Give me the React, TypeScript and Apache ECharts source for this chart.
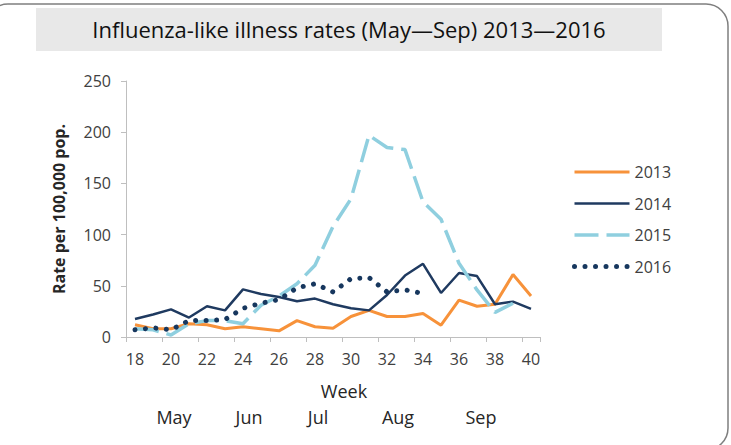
import React, { useEffect, useRef } from "react";
import * as echarts from "echarts";

const weeks = ["18","19","20","21","22","23","24","25","26","27","28","29","30","31","32","33","34","35","36","37","38","39","40"];
const s2013 = [12, 8, 8, 13, 12, 8, 10, 8, 6, 16, 10, 8.5, 20, 26, 20, 20, 23, 11.5, 36, 30, 32, 61, 40];
const s2014 = [17.5, 22, 27, 19, 30, 26, 46.5, 42, 39, 35, 37.5, 32, 28, 26, 41, 60, 71.5, 43, 62.5, 59.5, 32, 34.5, 27.5];
const s2015 = [8, 7, 2, 13, 16, 16, 13, 31, 40, 52, 70, 108, 135, 197, 185, 183, 132, 115, 72, 46, 24, 33, null];
const s2016 = [7, 9, 7, 16, 16, 17, 28, 33, 36.5, 48, 52, 44, 57, 58, 44, 46, 42.5, null, null, null, null, null, null];
const seriesNames = ["2013", "2014", "2015", "2016"];
const yTicks = { min: 0, max: 250, interval: 50 };
const titleText = "Influenza-like illness rates (May\u2014Sep) 2013\u20142016";
const yAxisName = "Rate per 100,000 pop.";
const xAxisName = "Week";
const months = ["May", "Jun", "Jul", "Aug", "Sep"];
const monthX = [174, 249, 318, 398, 481];

const FONT = "'Open Sans', 'Noto Sans', sans-serif";

export default function App() {
  const ref = useRef<HTMLDivElement>(null);
  useEffect(() => {
    if (!ref.current) return;
    const chart = echarts.init(ref.current, undefined, { renderer: "svg" });
    const option: any = {
      animation: false,
      backgroundColor: "#ffffff",
      textStyle: { fontFamily: FONT },
      grid: { left: 126, right: 191, top: 81, bottom: 108, containLabel: false },
      legend: {
        orient: "vertical",
        left: 567,
        top: 159,
        itemWidth: 55,
        itemHeight: 14,
        itemGap: 15.5,
        itemStyle: { opacity: 0 },
        lineStyle: { width: "inherit" },
        textStyle: { fontSize: 16, color: "#404040", fontFamily: FONT },
        data: seriesNames,
      },
      xAxis: {
        type: "category",
        data: weeks,
        boundaryGap: true,
        axisLine: { lineStyle: { color: "#bfbfbf", width: 1 } },
        axisTick: { show: true, interval: 1, length: 5, lineStyle: { color: "#bfbfbf" } },
        axisLabel: { interval: 1, fontSize: 16, color: "#404040", margin: 14, fontFamily: FONT },
        splitLine: { show: false },
      },
      yAxis: {
        type: "value",
        min: yTicks.min,
        max: yTicks.max,
        interval: yTicks.interval,
        name: yAxisName,
        nameLocation: "middle",
        nameGap: 59,
        nameTextStyle: { fontSize: 16, fontWeight: "bold", color: "#262626", fontFamily: FONT },
        axisLine: { show: true, lineStyle: { color: "#bfbfbf", width: 1 } },
        axisTick: { show: true, length: 5, lineStyle: { color: "#bfbfbf" } },
        axisLabel: { fontSize: 16, color: "#404040", margin: 15, fontFamily: FONT },
        splitLine: { show: false },
      },
      series: [
        {
          name: seriesNames[0],
          type: "line",
          data: s2013,
          symbol: "none",
          color: "#F7923A",
          lineStyle: { color: "#F7923A", width: 3 },
        },
        {
          name: seriesNames[1],
          type: "line",
          data: s2014,
          symbol: "none",
          color: "#1F3A60",
          lineStyle: { color: "#1F3A60", width: 2.5 },
        },
        {
          name: seriesNames[2],
          type: "line",
          data: s2015,
          symbol: "none",
          color: "#8FCFDF",
          lineStyle: { color: "#8FCFDF", width: 3.5, type: [24, 8] },
        },
        {
          name: seriesNames[3],
          type: "line",
          data: s2016,
          symbol: "none",
          color: "#17375E",
          lineStyle: { color: "#17375E", width: 5, type: [0.01, 10.5], cap: "round" },
        },
      ],
      graphic: [
        {
          type: "rect",
          silent: true,
          z: -10,
          shape: { x: -14, y: 4, width: 742, height: 446, r: 22 },
          style: { fill: "none", stroke: "#7f7f7f", lineWidth: 1.5 },
        },
        {
          type: "rect",
          silent: true,
          shape: { x: 36, y: 8, width: 626, height: 43 },
          style: { fill: "#e8e8e8" },
        },
        {
          type: "text",
          x: 349,
          y: 29,
          style: {
            text: titleText,
            fontSize: 22,
            fontFamily: FONT,
            fill: "#111111",
            textAlign: "center",
            textVerticalAlign: "middle",
          },
        },
        {
          type: "text",
          x: 344,
          y: 391,
          style: {
            text: xAxisName,
            fontSize: 18,
            fontFamily: FONT,
            fill: "#262626",
            textAlign: "center",
            textVerticalAlign: "middle",
          },
        },
        ...months.map((m, i) => ({
          type: "text",
          x: monthX[i],
          y: 417,
          style: {
            text: m,
            fontSize: 18,
            fontFamily: FONT,
            fill: "#262626",
            textAlign: "center",
            textVerticalAlign: "middle",
          },
        })),
      ],
    };
    chart.setOption(option);
    return () => chart.dispose();
  }, []);
  return (
    <div
      ref={ref}
      style={{ position: "fixed", left: 0, top: 0, width: 731, height: 445, background: "#fff" }}
    />
  );
}
